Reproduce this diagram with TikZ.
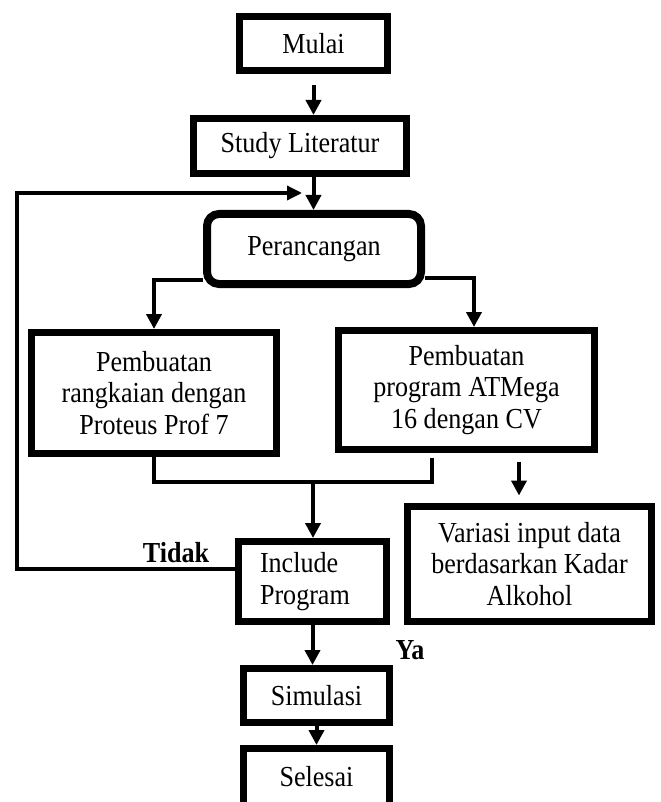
\documentclass[tikz,border=0pt]{standalone}
\usepackage{fontspec}
\setmainfont{Liberation Serif}[FakeStretch=0.9]
\usetikzlibrary{arrows.meta}
\newlength\pxunit
\setlength\pxunit{0.5pt}
\tikzset{
	  boxline/.style = {line width=7\pxunit},
	 linkline/.style = {line width=4\pxunit},
	 loopline/.style = {line width=3.4\pxunit}
}

\begin{document}
\begin{tikzpicture} [
			x=0.5pt, y=-0.5pt,
			every node/.style={font=\fontsize{14.5}{15.6}\selectfont},
			box/.style={rectangle, draw, boxline, inner sep=0pt, align=center},
			arrow/.style={linkline, -{Triangle[length=7.5pt, width=7.5pt]}}
		]
		\clip (0,0) rectangle (660,802);
		\node at (313.5,43.5) [box, minimum width=74pt, minimum height=27pt] (mulai) {Mulai};
		\node at (300,146)    [box, minimum width=106.5pt, minimum height=27.5pt] (study) {Study Literatur};
		\node at (314,249)    [box, line width=4pt, rounded corners=6pt, minimum width=107pt, minimum height=35pt] (perancangan) {Perancangan};
		\node at (154,393)    [box, minimum width=122.5pt, minimum height=60.5pt] (rangkaian) {Pembuatan\\rangkaian dengan\\Proteus Prof 7};
		\node at (466.5,390)  [box, minimum width=128pt, minimum height=59.5pt] (program) {Pembuatan\\program ATMega\\16 dengan CV};
		\node at (312.5,581.5)[box, minimum width=74pt, minimum height=40pt, inner xsep=10.75pt, text width=52.5pt, align=left] (include) {Include\\Program};
		\node at (529.5,564)  [box, minimum width=122pt, minimum height=57.5pt] (variasi) {Variasi input data\\berdasarkan Kadar\\Alkohol};
		\node at (316.5,695.5)[box, minimum width=73pt, minimum height=27pt] (simulasi) {Simulasi};
		\node at (316.5,777)  [box, minimum width=73pt, minimum height=28.5pt] (selesai) {Selesai};
		\node at (176,553) (tidak) {\textbf{Tidak}};
		\node at (410,650) (ya) {\textbf{Ya}};
		
		\coordinate (join) at (313,482);
		\coordinate (joinR) at (432,458);
		\coordinate (loopTop) at (17,193);
		\coordinate (loopEnd) at (302,193);
		
		\draw [arrow] ([yshift=-5.75pt]mulai.south) -- (mulai.south |- study.north);
		\draw [arrow] (study.south -| mulai.south) -- (mulai.south |- perancangan.north);
		\draw [arrow] ([yshift=-15.5pt]perancangan.west) -| (rangkaian.north);
		\draw [arrow] ([yshift=-14.5pt]perancangan.east) -| ([xshift=3.75pt]program.north);
		\draw [linkline] (rangkaian.south) |- (join) -| (joinR);
		\draw [arrow] (join) -- (join |- include.north);
		\draw [arrow] ([xshift=26.25pt, yshift=-4.25pt]program.south) -- ++(0,34);
		\draw [arrow] (include.south) -- (include.south |- simulasi.north);
		\draw [arrow] (simulasi.south) -- (selesai.north);
		\draw [loopline, -{Triangle[length=7.5pt, width=7pt]}] ([yshift=6.25pt]include.west) -| (loopTop) -- (loopEnd);
	\end{tikzpicture}
\end{document}
